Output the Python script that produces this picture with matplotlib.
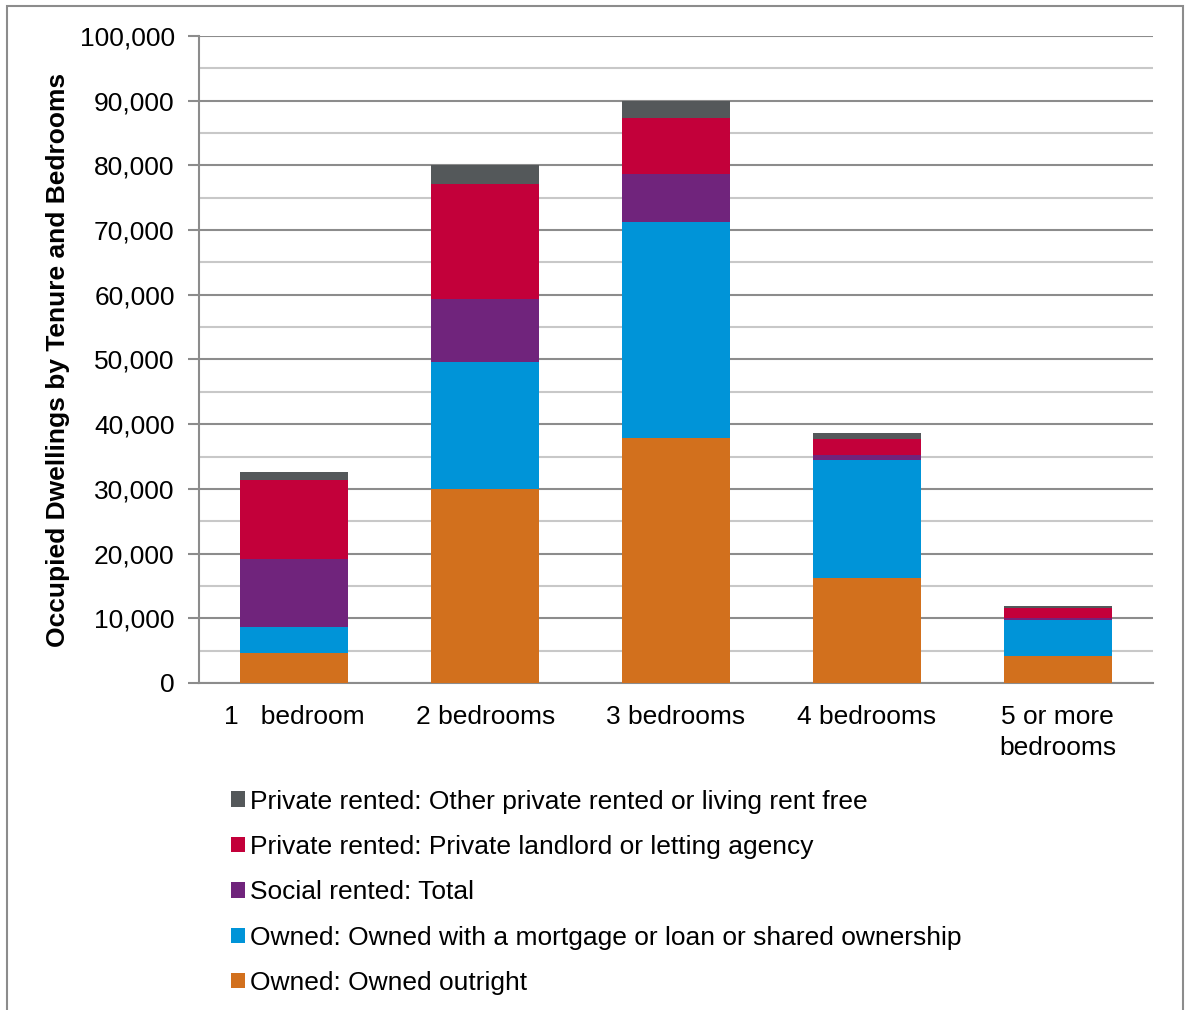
import matplotlib
matplotlib.use("Agg")
import matplotlib.pyplot as plt
import numpy as np
from matplotlib.patches import Rectangle, Patch
from matplotlib.ticker import MultipleLocator, FuncFormatter

plt.rcParams['font.family'] = ['Liberation Sans', 'DejaVu Sans']

categories = ["1   bedroom", "2 bedrooms", "3 bedrooms", "4 bedrooms", "5 or more\nbedrooms"]
series_names = [
    "Owned: Owned outright",
    "Owned: Owned with a mortgage or loan or shared ownership",
    "Social rented: Total",
    "Private rented: Private landlord or letting agency",
    "Private rented: Other private rented or living rent free",
]
owned_outright = [4600, 30000, 37800, 16300, 4200]
owned_mortgage = [4000, 19600, 33400, 18100, 5500]
social_rented = [10600, 9700, 7400, 800, 350]
private_landlord = [12200, 17900, 8800, 2500, 1600]
private_other = [1250, 2900, 2600, 900, 300]
colors = ["#D2701D", "#0094D8", "#70247C", "#C3003A", "#54585A"]

series = [owned_outright, owned_mortgage, social_rented, private_landlord, private_other]

W, H = 1186, 1010
fig = plt.figure(figsize=(W / 100, H / 100), dpi=100)
fig.patches.append(Rectangle((7 / W, -0.05), (1183 - 7) / W, 1.05 - 6 / H,
                             transform=fig.transFigure, fill=False,
                             edgecolor="#8C8C8C", linewidth=1.5))

ax = fig.add_axes([199 / W, 1 - 683 / H, (1153 - 199) / W, (683 - 36) / H])
x = np.arange(len(categories))
bottom = np.zeros(len(categories))
handles = []
for vals, c, name in zip(series, colors, series_names):
    ax.bar(x, vals, width=0.566, bottom=bottom, color=c, edgecolor="none", zorder=3)
    bottom += np.array(vals)
    handles.append(Patch(facecolor=c, edgecolor="none", label=name))

ax.set_xlim(-0.5, 4.5)
ax.set_ylim(0, 100000)
ax.yaxis.set_major_locator(MultipleLocator(10000))
ax.yaxis.set_minor_locator(MultipleLocator(5000))
ax.yaxis.set_major_formatter(FuncFormatter(lambda v, p: f"{int(v):,}"))
ax.grid(which="major", axis="y", color="#8C8C8C", linewidth=1.5, zorder=0)
ax.grid(which="minor", axis="y", color="#C8C8C8", linewidth=1.5, zorder=0)
ax.tick_params(axis="y", which="major", length=8, width=1.5, color="#8C8C8C",
               labelsize=19, pad=9.5)
ax.tick_params(axis="y", which="minor", length=0)
ax.tick_params(axis="x", length=0, labelsize=19, pad=15.5)
ax.set_xticks(x)
ax.set_xticklabels(categories, linespacing=1.4)
for s in ["top", "right"]:
    ax.spines[s].set_visible(False)
for s in ["left", "bottom"]:
    ax.spines[s].set_color("#8C8C8C")
    ax.spines[s].set_linewidth(1.5)
ax.set_ylabel("Occupied Dwellings by Tenure and Bedrooms", fontsize=19,
              fontweight="bold", labelpad=7)

fig.legend(handles=handles[::-1], loc="upper left",
           bbox_to_anchor=(220 / W, 1 - 779 / H), frameon=False, fontsize=19,
           handlelength=0.53, handleheight=0.53, handletextpad=0.22,
           labelspacing=0.81, borderaxespad=0)

fig.savefig("out.png", dpi=100)
